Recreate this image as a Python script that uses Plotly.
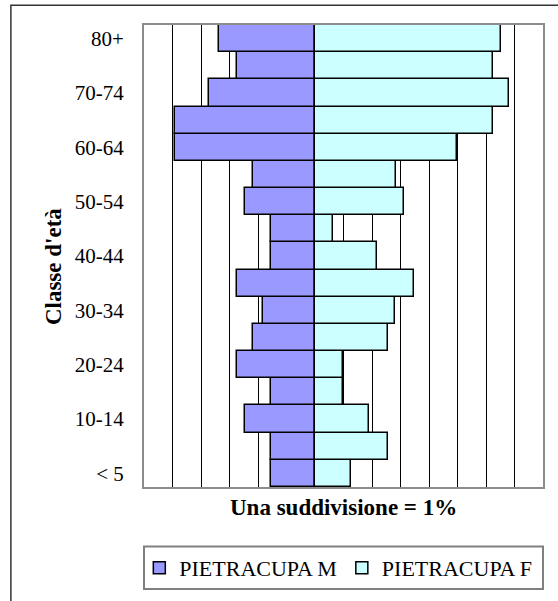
import plotly.graph_objects as go

categories = ["< 5", "5-9", "10-14", "15-19", "20-24", "25-29", "30-34", "35-39",
              "40-44", "45-49", "50-54", "55-59", "60-64", "65-69", "70-74", "75-79", "80+"]
male_pct = [1.55, 1.55, 2.46, 1.55, 2.74, 2.17, 1.82, 2.74,
            1.55, 1.55, 2.46, 2.17, 4.92, 4.92, 3.72, 2.74, 3.38]
female_pct = [1.27, 2.56, 1.91, 0.97, 0.97, 2.56, 2.82, 3.46,
              2.19, 0.62, 3.11, 2.84, 4.98, 6.26, 6.82, 6.25, 6.54]
tick_labels = categories[::2]
series_names = ["PIETRACUPA M", "PIETRACUPA F"]

FONT = "Liberation Serif, Times New Roman, serif"

fig = go.Figure()
fig.add_trace(go.Bar(
    y=categories, x=[-v for v in male_pct], orientation="h", name=series_names[0],
    marker=dict(color="#9999FF", line=dict(color="black", width=1.5)),
))
fig.add_trace(go.Bar(
    y=categories, x=female_pct, orientation="h", name=series_names[1],
    marker=dict(color="#CCFFFF", line=dict(color="black", width=1.5)),
))

fig.update_layout(
    width=558, height=601,
    margin=dict(l=144, r=15, t=25, b=110),
    paper_bgcolor="white", plot_bgcolor="white",
    barmode="overlay", bargap=0,
    font=dict(family=FONT, size=21, color="black"),
    showlegend=True,
    legend=dict(orientation="h", x=0.487, xanchor="center", y=-0.175, yanchor="middle",
                font=dict(family=FONT, size=22, color="black"),
                bgcolor="rgba(0,0,0,0)", borderwidth=0, traceorder="normal"),
    xaxis=dict(range=[-6, 8], dtick=1, tick0=0, showticklabels=False, ticks="",
               showgrid=True, gridcolor="black", gridwidth=1, zeroline=False,
               showline=True, mirror=True, linecolor="#8c8c8c", linewidth=2),
    yaxis=dict(type="category", tickmode="array", tickvals=tick_labels, ticktext=tick_labels,
               ticks="", ticklabelstandoff=14, showgrid=False, zeroline=False,
               showline=True, mirror=True, linecolor="#8c8c8c", linewidth=2,
               tickfont=dict(family=FONT, size=21, color="black")),
    annotations=[
        dict(text="Una suddivisione = 1%", xref="paper", yref="paper", x=0.5, y=-0.044,
             xanchor="center", yanchor="middle", showarrow=False,
             font=dict(family=FONT, size=23, color="black", weight="bold")),
        dict(text="Classe d'età", xref="paper", yref="paper", x=-0.228, y=0.476,
             xanchor="center", yanchor="middle", showarrow=False, textangle=-90,
             font=dict(family=FONT, size=23, color="black", weight="bold")),
    ],
    shapes=[
        dict(type="rect", xref="paper", yref="paper", x0=0, x1=1, y0=-0.221, y1=-0.1288,
             line=dict(color="#808080", width=2), fillcolor="rgba(0,0,0,0)", layer="below"),
        dict(type="rect", xref="paper", yref="paper", x0=-0.3336, x1=1.06, y0=-0.26, y1=1.0429,
             line=dict(color="#333333", width=1.5), fillcolor="rgba(0,0,0,0)", layer="below"),
    ],
)

fig.write_html(
    "out.html",
    config={"displayModeBar": False},
    post_script="document.body.style.margin='0';document.body.style.overflow='hidden';",
)
